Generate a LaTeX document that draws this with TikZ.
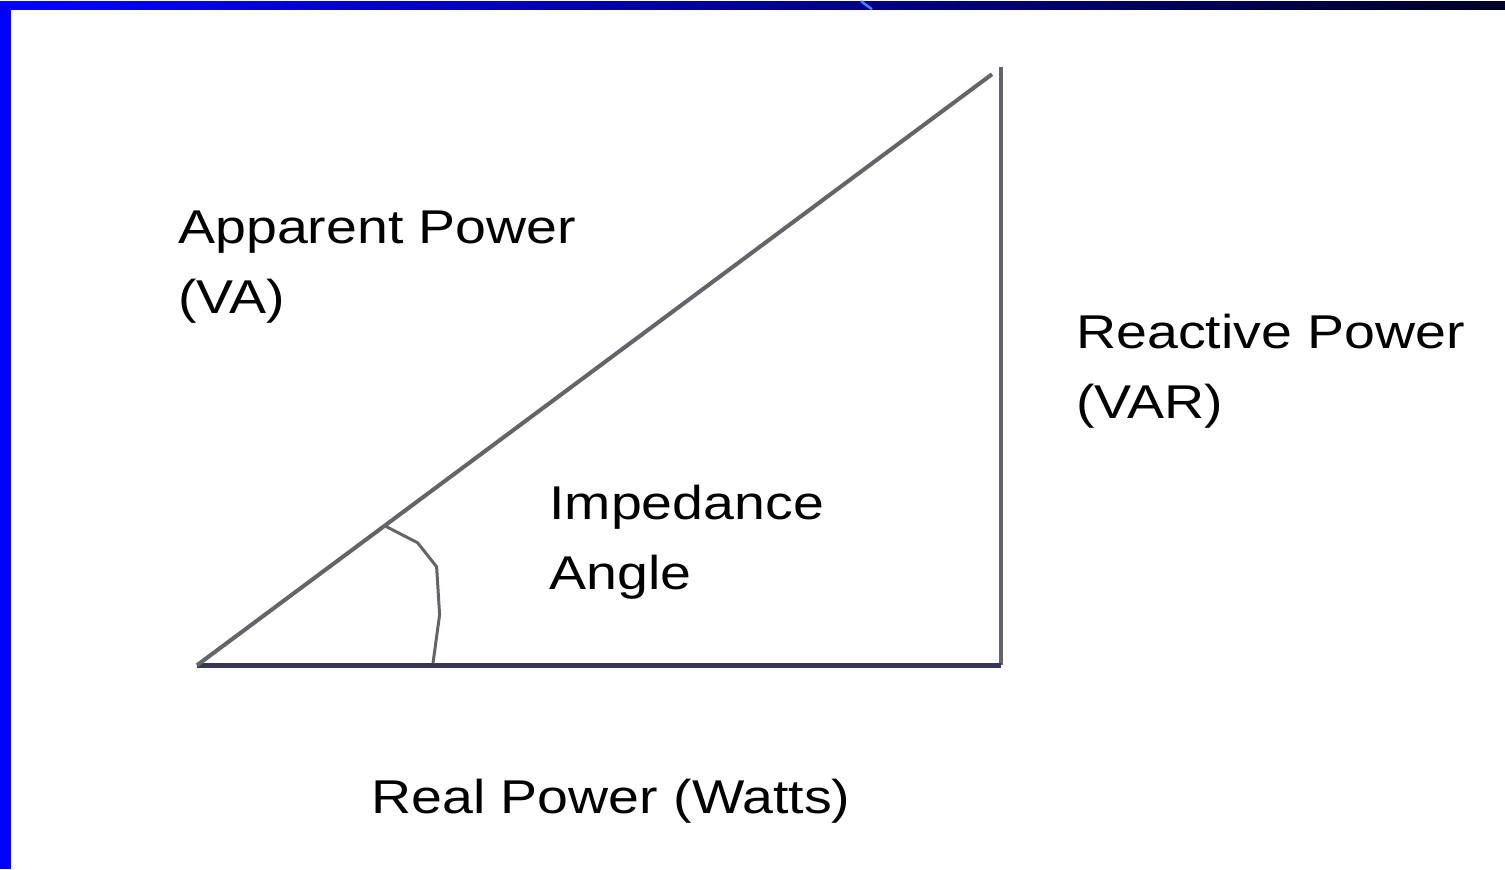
\documentclass[tikz,border=0pt]{standalone}
\usepackage{fontspec}
\setmainfont[FakeStretch=1.17]{Liberation Sans}
\usetikzlibrary{calc,positioning}
\definecolor{pptblue}{RGB}{0,0,255}
\definecolor{pptnavy}{RGB}{0,0,40}
\definecolor{pptglint}{RGB}{70,130,255}
\definecolor{edgegray}{RGB}{100,100,105}
\definecolor{basenavy}{RGB}{55,55,85}

\begin{document}
\begin{tikzpicture}[x=0.02cm, y=-0.02cm,
      plabel/.style={inner sep=0pt, align=left, anchor=base west, font=\fontsize{27}{39.8}\selectfont},
      side/.style={line width=2.8pt},
      hyp/.style={draw=edgegray, line width=2.3pt},
      anglemark/.style={draw=edgegray, line width=1.7pt, line join=round}
    ]
      % Slide frame
      \fill[white] (0,0) rectangle (1505,868);
      \shade[left color=pptblue, right color=pptnavy] (0,0) rectangle (1505,8);
      \fill[pptblue] (0,0) rectangle (11,868);
      \draw[pptglint, line width=1.4pt] (861,0) -- (872,8);

      % Triangle
      \coordinate (O) at (197,664);
      \coordinate (B) at (1001,664);
      \coordinate (T) at (1001,66);
      \coordinate (A) at (992,73);
      \draw[side, draw=edgegray] (B) -- (T);
      \draw[side, draw=basenavy] (O) -- (B);
      \draw[hyp] (O) -- (A);

      % Angle mark
      \coordinate (M) at ($(O)!0.236!(A)$);
      \coordinate (E) at (433,662);
      \draw[anglemark] (M) -- ++(33,17) -- ++(19,24) -- ++(3,48) -- (E);

      % Labels (base = last line)
      \node[plabel] (va) at (178,312) {Apparent Power\\(VA)};
      \node[plabel] (var) at (1076,417) {Reactive Power\\(VAR)};
      \node[plabel] (ang) at (549,588) {Impedance\\Angle};
      \node[plabel] (watt) at (371,812) {Real Power (Watts)};
    \end{tikzpicture}
\end{document}
